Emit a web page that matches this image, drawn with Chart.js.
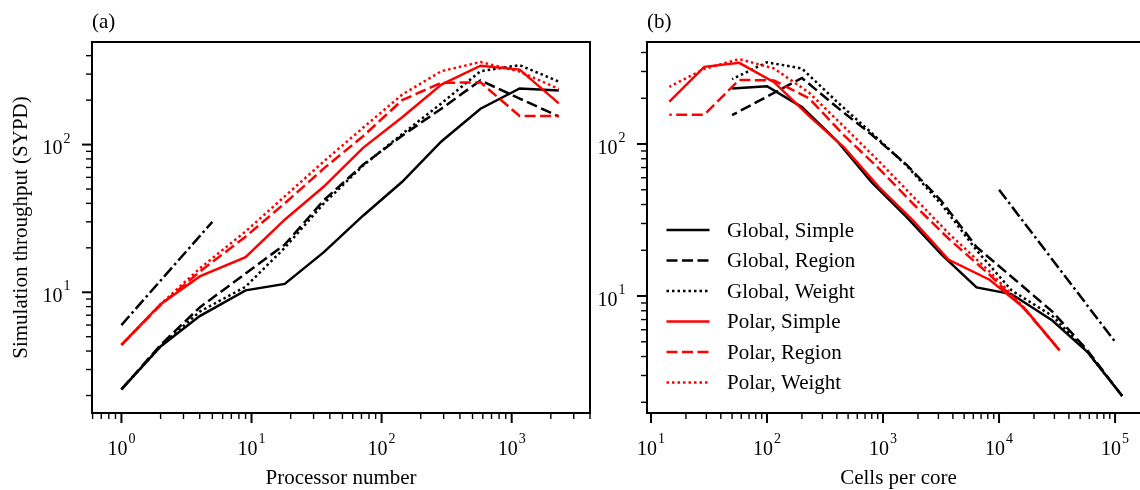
<!DOCTYPE html>
<html>
<head>
<meta charset="utf-8">
<script src="https://cdn.jsdelivr.net/npm/chart.js@4.4.0/dist/chart.umd.min.js"></script>
<style>
  html, body { margin: 0; padding: 0; background: #fff; overflow: hidden; }
  #wrap { position: relative; width: 1140px; height: 490px; overflow: hidden; }
  canvas { position: absolute; top: 0; }
  #chartA { left: 0; }
  #chartB { left: 560px; }
</style>
</head>
<body>
<div id="wrap">
  <canvas id="chartA" width="600" height="490"></canvas>
  <canvas id="chartB" width="600" height="490"></canvas>
</div>
<script>
// processor counts (panel a x values)
const processors = [1, 2, 4, 9, 18, 36, 72, 144, 288, 576, 1152, 2304];
// cells per core (panel b x values)
const cellsGlobal = [115200, 57600, 28800, 12800, 6400, 3200, 1600, 800, 400, 200, 100, 50];
const cellsPolar = [33180, 16590, 8295, 3687, 1843, 922, 461, 230, 115, 57.6, 28.8, 14.4];

// simulation throughput, SYPD
const globalSimple = [2.2, 4.3, 6.9, 10.3, 11.4, 18.7, 33, 56, 105, 175, 240, 232];
const globalRegion = [2.2, 4.4, 7.9, 13.4, 21, 42, 73, 115, 175, 272, 205, 155];
const globalWeight = [2.2, 4.3, 7.4, 10.9, 20, 40, 72, 118, 190, 314, 345, 267];
const polarSimple = [4.4, 8.3, 12.8, 17.3, 31, 52, 95, 153, 255, 342, 322, 190];
const polarRegion = [4.4, 8.2, 13.8, 23.8, 40, 69, 114, 200, 262, 264, 156, 156];
const polarWeight = [4.4, 8.3, 14.5, 25.8, 44.6, 77, 130, 218, 314, 362, 312, 238];

// ideal scaling guides
const idealAx = [1, 5];
const idealAy = [6, 30];
const idealBx = [10000, 100000];
const idealBy = [50, 5];

const seriesNames = ['Global, Simple', 'Global, Region', 'Global, Weight',
                     'Polar, Simple', 'Polar, Region', 'Polar, Weight'];
const seriesValues = [globalSimple, globalRegion, globalWeight, polarSimple, polarRegion, polarWeight];

const FONT = '"Liberation Serif", "DejaVu Serif", serif';
const LW = 2.5;
const DASH = [[], [11, 4.5], [2.5, 3], [], [11, 4.5], [2.5, 3]];
const COLOR = ['#000', '#000', '#000', '#ff0000', '#ff0000', '#ff0000'];

function pts(xs, ys) {
  return xs.map((x, i) => ({ x: x, y: ys[i] }));
}

function buildSets(xGlobal, xPolar, idealX, idealY) {
  const sets = seriesNames.map((name, i) => ({
    label: name,
    data: pts(i < 3 ? xGlobal : xPolar, seriesValues[i]),
    borderColor: COLOR[i],
    borderDash: DASH[i],
    borderWidth: LW,
    showLine: true,
    pointRadius: 0,
    order: i < 3 ? 1 : 0
  }));
  sets.push({
    label: 'ideal',
    data: pts(idealX, idealY),
    borderColor: '#000',
    borderDash: [12, 3.5, 2.5, 3.5],
    borderWidth: LW,
    showLine: true,
    pointRadius: 0,
    order: 2
  });
  return sets;
}

function logTicks(min, max) {
  const out = [];
  for (let e = Math.floor(Math.log10(min)); e <= Math.ceil(Math.log10(max)); e++) {
    for (let m = 1; m <= 9; m++) {
      const v = m * Math.pow(10, e);
      if (v >= min * 0.9999 && v <= max * 1.0001) out.push({ v: v, major: m === 1, exp: e });
    }
  }
  return out;
}

function drawPow(ctx, exp, x, y, align) {
  ctx.font = '20px ' + FONT;
  const w1 = ctx.measureText('10').width;
  ctx.font = '14px ' + FONT;
  const w2 = ctx.measureText(String(exp)).width;
  const total = w1 + 1 + w2;
  const left = align === 'center' ? x - total / 2 : x - total;
  ctx.textAlign = 'left';
  ctx.textBaseline = 'alphabetic';
  ctx.font = '20px ' + FONT;
  ctx.fillText('10', left, y);
  ctx.font = '14px ' + FONT;
  ctx.fillText(String(exp), left + w1 + 1, y - 11.5);
}

// frame, log ticks, labels and legend
const axisDecor = {
  id: 'axisDecor',
  afterDraw(chart, args, opts) {
    const ctx = chart.ctx, a = chart.chartArea;
    const xs = chart.scales.x, ys = chart.scales.y;
    ctx.save();
    ctx.strokeStyle = '#000';
    ctx.fillStyle = '#000';

    logTicks(xs.min, xs.max).forEach(t => {
      const px = xs.getPixelForValue(t.v);
      ctx.lineWidth = t.major ? 2 : 1.4;
      ctx.beginPath();
      ctx.moveTo(px, a.bottom);
      ctx.lineTo(px, a.bottom + (t.major ? 10 : 6));
      ctx.stroke();
      if (t.major) drawPow(ctx, t.exp, px, a.bottom + 41.5, 'center');
    });
    logTicks(ys.min, ys.max).forEach(t => {
      const py = ys.getPixelForValue(t.v);
      ctx.lineWidth = t.major ? 2 : 1.4;
      ctx.beginPath();
      ctx.moveTo(a.left, py);
      ctx.lineTo(a.left - (t.major ? 10 : 6), py);
      ctx.stroke();
      if (t.major) drawPow(ctx, t.exp, a.left - 21.5, py + 9.5, 'right');
    });

    ctx.lineWidth = 2;
    ctx.setLineDash([]);
    ctx.strokeRect(a.left, a.top, a.right - a.left, a.bottom - a.top);

    ctx.font = '21px ' + FONT;
    ctx.textAlign = 'left';
    ctx.textBaseline = 'alphabetic';
    ctx.fillText(opts.panel, a.left, 27.5);

    ctx.textAlign = 'center';
    ctx.fillText(opts.xTitle, (a.left + a.right) / 2, a.bottom + 71);

    if (opts.yTitle) {
      ctx.save();
      ctx.translate(27, (a.top + a.bottom) / 2);
      ctx.rotate(-Math.PI / 2);
      ctx.fillText(opts.yTitle, 0, 0);
      ctx.restore();
    }

    if (opts.legend) {
      ctx.textAlign = 'left';
      ctx.textBaseline = 'middle';
      seriesNames.forEach((name, i) => {
        const y = 230 + i * 30.5;
        ctx.strokeStyle = COLOR[i];
        ctx.lineWidth = LW;
        ctx.setLineDash(DASH[i]);
        ctx.beginPath();
        ctx.moveTo(a.left + 19.5, y);
        ctx.lineTo(a.left + 62.5, y);
        ctx.stroke();
        ctx.setLineDash([]);
        ctx.fillStyle = '#000';
        ctx.fillText(name, a.left + 80, y + 1);
      });
    }
    ctx.restore();
  }
};

function makeChart(id, datasets, xr, yr, padLeft, decor) {
  return new Chart(document.getElementById(id), {
    type: 'scatter',
    data: { datasets: datasets },
    options: {
      responsive: false,
      animation: false,
      devicePixelRatio: 1,
      layout: { padding: { left: padLeft, top: 42, right: 10, bottom: 77 } },
      plugins: {
        legend: { display: false },
        tooltip: { enabled: false },
        axisDecor: decor
      },
      scales: {
        x: { type: 'logarithmic', min: xr[0], max: xr[1], display: false },
        y: { type: 'logarithmic', min: yr[0], max: yr[1], display: false }
      },
      elements: { line: { tension: 0 } }
    },
    plugins: [axisDecor]
  });
}

makeChart('chartA', buildSets(processors, processors, idealAx, idealAy),
  [0.594, 4000], [1.523, 495], 92,
  { panel: '(a)', xTitle: 'Processor number', yTitle: 'Simulation throughput (SYPD)', legend: false });

makeChart('chartB', buildSets(cellsGlobal, cellsPolar, idealBx, idealBy),
  [9.24, 200000], [1.70, 469], 87,
  { panel: '(b)', xTitle: 'Cells per core', yTitle: null, legend: true });
</script>
</body>
</html>
